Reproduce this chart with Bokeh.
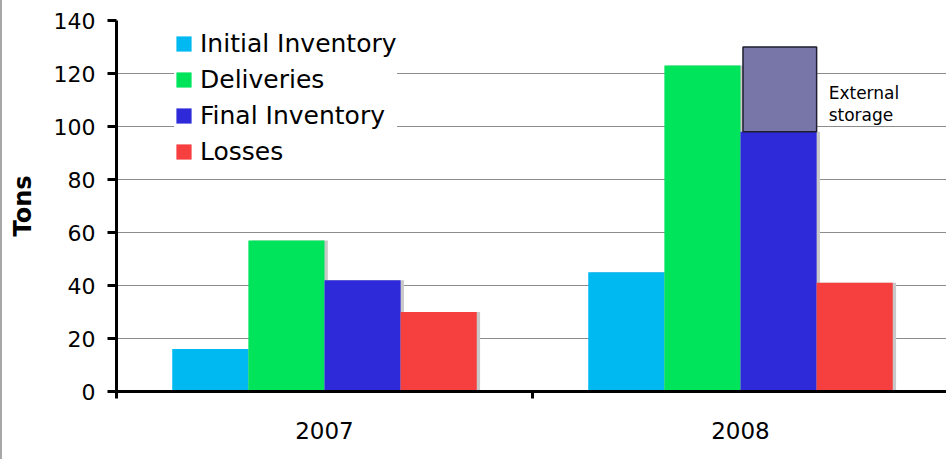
from bokeh.plotting import figure
from bokeh.models import (ColumnDataSource, Range1d, FixedTicker, Legend, LegendItem,
                          SingleIntervalTicker)
from bokeh.transform import dodge
from bokeh.core.properties import value
from bokeh.embed import file_html
from bokeh.resources import INLINE

years = ["2007", "2008"]
series = ["Initial Inventory", "Deliveries", "Final Inventory", "Losses"]
initial_inventory = [16, 45]
deliveries = [57, 123]
final_inventory = [42, 98]
losses = [30, 41]
external_storage = [0, 32]
colors = ["#00B9F1", "#00E45B", "#2E2AD9", "#F63F3F"]
ext_color = "#7876A8"

FONT = "DejaVu Sans"

centers = [i + 0.5 for i in range(len(years))]
src = ColumnDataSource(dict(
    x=centers,
    year=years,
    initial=initial_inventory,
    deliveries=deliveries,
    final=final_inventory,
    losses=losses,
))

p = figure(width=946, height=459, x_range=Range1d(0, len(years)),
           y_range=Range1d(0, 140), output_backend="svg", toolbar_location=None,
           min_border_left=114, min_border_right=0,
           min_border_top=20, min_border_bottom=68)
p.styles = {"border-left": "2px solid #a8a8a8"}
p.outline_line_color = None
p.background_fill_color = "white"
p.border_fill_color = "white"

# grid
p.xgrid.grid_line_color = None
p.ygrid.grid_line_color = "#8c8c8c"
p.ygrid.grid_line_width = 1

# y axis
p.yaxis.ticker = SingleIntervalTicker(interval=20)
p.yaxis.axis_line_width = 3
p.yaxis.axis_line_color = "black"
p.yaxis.major_tick_line_width = 3
p.yaxis.major_tick_out = 9
p.yaxis.major_tick_in = 0
p.yaxis.minor_tick_line_color = None
p.yaxis.major_label_text_font = FONT
p.yaxis.major_label_text_font_size = "22px"
p.yaxis.major_label_text_color = "black"
p.yaxis.major_label_standoff = 12
p.yaxis.axis_label = "Tons"
p.yaxis.axis_label_text_font = FONT
p.yaxis.axis_label_text_font_style = "bold"
p.yaxis.axis_label_text_font_size = "24px"
p.yaxis.axis_label_text_color = "black"
p.yaxis.axis_label_standoff = 14

# x axis: labels at category centres, ticks at category boundaries
xa = p.xaxis[0]
xa.ticker = FixedTicker(ticks=centers, minor_ticks=list(range(len(years) + 1)))
xa.major_label_overrides = {c: y for c, y in zip(centers, years)}
xa.axis_line_width = 3
xa.axis_line_color = "black"
xa.major_tick_line_color = None
xa.major_tick_out = 0
xa.major_tick_in = 0
xa.minor_tick_line_color = "black"
xa.minor_tick_line_width = 3
xa.minor_tick_out = 7
xa.minor_tick_in = 0
xa.major_label_text_font = FONT
xa.major_label_text_font_size = "23px"
xa.major_label_text_color = "black"
xa.major_label_standoff = 23

offsets = [-0.2745, -0.0915, 0.0915, 0.2745]
fields = ["initial", "deliveries", "final", "losses"]
W = 0.183
shx = 0.008

# shadows
for off, f in zip(offsets, fields):
    p.vbar(x=dodge("x", off + shx), top=f, width=W,
           source=src, fill_color="#c9c9c9", line_color=None)
# bars
renderers = []
for off, f, c in zip(offsets, fields, colors):
    r = p.vbar(x=dodge("x", off), top=f, width=W,
               source=src, fill_color=c, line_color=None)
    renderers.append(r)

# external storage box
ext_src = ColumnDataSource(dict(
    x=[centers[1]],
    bottom=[final_inventory[1]],
    top=[final_inventory[1] + external_storage[1]],
    label=["External\nstorage"],
))
p.vbar(x=dodge("x", offsets[2] + 0.003), bottom="bottom", top="top",
       width=W - 0.006, source=ext_src, fill_color=ext_color, line_color="#1e1e2e",
       line_width=1.5)
p.text(x=dodge("x", offsets[3] - W / 2 + 0.029), y="top",
       text="label", source=ext_src, text_font=value(FONT), text_font_size="17px",
       text_color="black", text_baseline="top", text_align="left",
       text_line_height=1.12, y_offset=36)

legend = Legend(items=[LegendItem(label=s, renderers=[r]) for s, r in zip(series, renderers)],
                location=(58, 225))
legend.label_text_font = FONT
legend.label_text_font_size = "25px"
legend.label_text_color = "black"
legend.glyph_width = 19
legend.glyph_height = 19
legend.label_standoff = 7
legend.spacing = 7
legend.padding = 8
legend.margin = 0
legend.border_line_color = None
legend.background_fill_color = "white"
legend.background_fill_alpha = 1
p.add_layout(legend, "center")

open("out.html", "w").write(file_html(p, INLINE))
